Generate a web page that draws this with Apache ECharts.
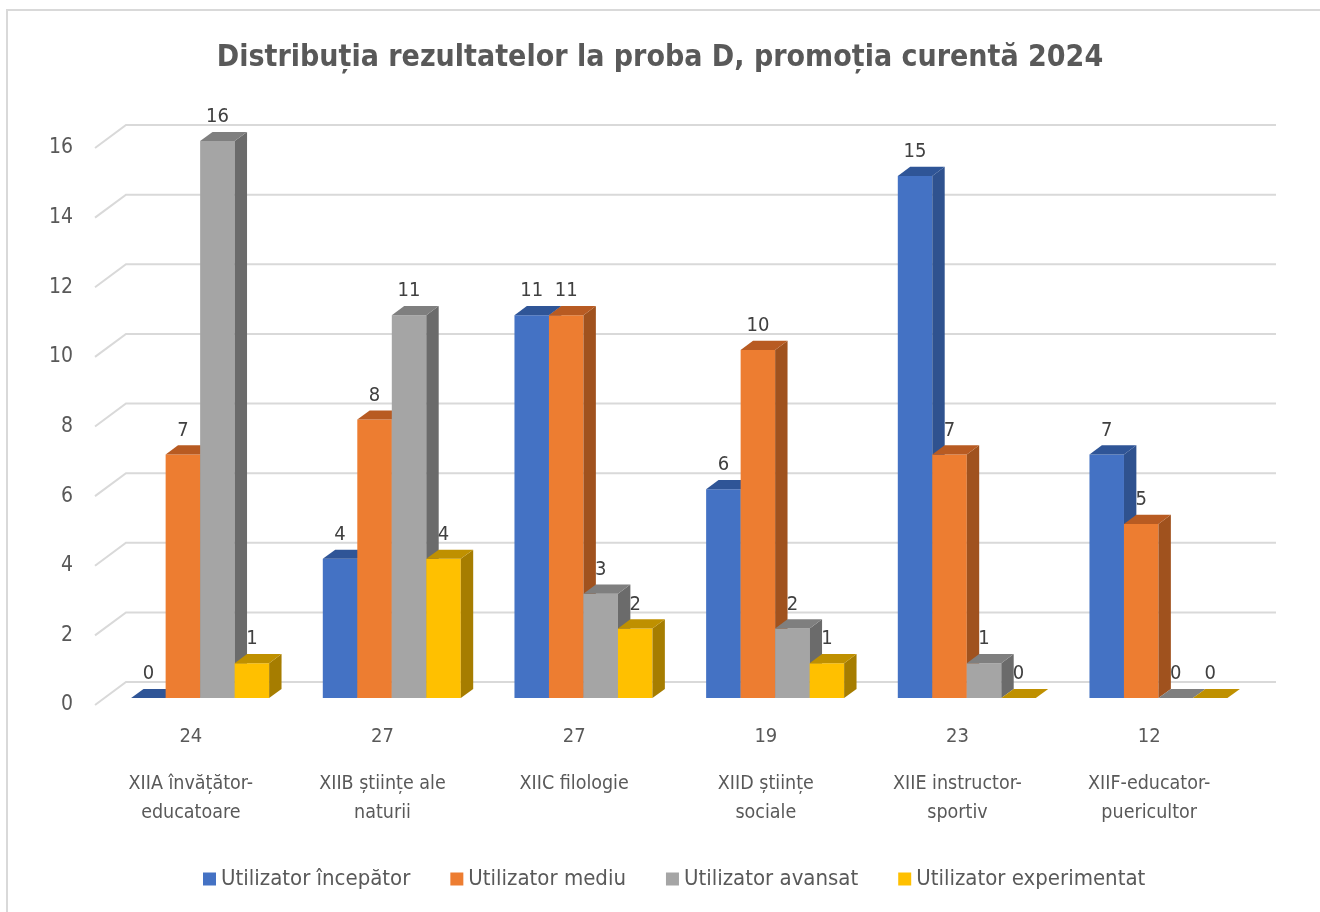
<!DOCTYPE html>
<html>
<head>
<meta charset="utf-8">
<title>Distribuția rezultatelor la proba D</title>
<script src="https://cdn.jsdelivr.net/npm/echarts@6/dist/echarts.min.js"></script>
<style>
html, body { margin: 0; padding: 0; background: #fff; }
#chart { width: 1320px; height: 912px; }
</style>
</head>
<body>
<div id="chart"></div>
<script>
// clase si numar de elevi
var classes = ['XIIA învățător-\neducatoare', 'XIIB științe ale\nnaturii', 'XIIC filologie',
	'XIID științe\nsociale', 'XIIE instructor-\nsportiv', 'XIIF-educator-\npuericultor'];
var totals = ['24', '27', '27', '19', '23', '12'];

var levels = ['Utilizator începător', 'Utilizator mediu', 'Utilizator avansat', 'Utilizator experimentat'];
var incepator = [0, 4, 11, 6, 15, 7];
var mediu = [7, 8, 11, 10, 7, 5];
var avansat = [16, 11, 3, 2, 1, 0];
var experimentat = [1, 4, 2, 1, 0, 0];

var yTicks = [0, 2, 4, 6, 8, 10, 12, 14, 16];

// fata, latura, capac
var colors = [
	['#4472C4', '#2F528F', '#2F5597'],
	['#ED7D31', '#A0521E', '#B85B22'],
	['#A5A5A5', '#6B6B6B', '#7F7F7F'],
	['#FFC000', '#A67D00', '#BF9000']
];

var FONT = '"Liberation Sans Narrow", "DejaVu Sans Condensed", sans-serif';
var DEPTH_X = 31, DEPTH_Y = -23; // adancimea podelei
var BAR_D0 = 0.3, BAR_D1 = 0.7;  // pozitia barelor in adancime

var myChart = echarts.init(document.getElementById('chart'));

function gridRender(params, api) {
	var cs = params.coordSys;
	var y = api.coord([0, api.value(1)])[1];
	return {
		type: 'polyline',
		shape: { points: [[cs.x, y], [cs.x + DEPTH_X, y + DEPTH_Y], [cs.x + cs.width + DEPTH_X, y + DEPTH_Y]] },
		style: { stroke: '#D9D9D9', lineWidth: 2, fill: null }
	};
}

function barRender(idx) {
	return function(params, api) {
		var cat = api.value(0);
		var val = api.value(1);
		var top = api.coord([cat, val]);
		var base = api.coord([cat, 0]);
		var catW = api.size([1, 0])[0];
		var bw = catW * 0.18;
		var ox = DEPTH_X * BAR_D0, oy = DEPTH_Y * BAR_D0;
		var dx = DEPTH_X * (BAR_D1 - BAR_D0), dy = DEPTH_Y * (BAR_D1 - BAR_D0);
		var xl = top[0] - bw * 2 + idx * bw + ox;
		var xr = xl + bw;
		var yt = top[1] + oy;
		var yb = base[1] + oy;
		var c = colors[idx];
		return {
			type: 'group',
			children: [
				{ type: 'rect', shape: { x: xl, y: yt, width: bw, height: yb - yt }, style: { fill: c[0] } },
				{ type: 'polygon', shape: { points: [[xr, yt], [xr, yb], [xr + dx, yb + dy], [xr + dx, yt + dy]] }, style: { fill: c[1] } },
				{ type: 'polygon', shape: { points: [[xl, yt], [xr, yt], [xr + dx, yt + dy], [xl + dx, yt + dy]] }, style: { fill: c[2] } },
				{ type: 'text', style: { text: String(val), x: xl + bw / 2, y: yt - 24, align: 'center', verticalAlign: 'middle',
					fontSize: 20, fontFamily: FONT, fill: '#404040' } }
			]
		};
	};
}

function toPairs(arr) {
	return arr.map(function(v, i) { return [i, v]; });
}

var seriesData = [incepator, mediu, avansat, experimentat];
var series = [{
	type: 'custom',
	name: 'grila',
	renderItem: gridRender,
	data: yTicks.map(function(v) { return [0, v]; }),
	clip: false,
	silent: true,
	z: 1
}];
for (var i = 0; i < seriesData.length; i++) {
	series.push({
		type: 'custom',
		name: levels[i],
		renderItem: barRender(i),
		data: toPairs(seriesData[i]),
		itemStyle: { color: colors[i][0] },
		clip: false,
		z: 2
	});
}

option = {
	backgroundColor: '#fff',
	animation: false,
	title: {
		text: 'Distribuția rezultatelor la proba D, promoția curentă 2024',
		left: 'center',
		top: 38,
		textStyle: { fontFamily: FONT, fontWeight: 'bold', fontSize: 30, color: '#595959' }
	},
	graphic: [{
		type: 'rect',
		shape: { x: 7, y: 10, width: 1400, height: 1000 },
		style: { fill: null, stroke: '#D9D9D9', lineWidth: 2 },
		silent: true
	}],
	legend: {
		data: levels,
		left: 198,
		top: 863,
		icon: 'rect',
		itemWidth: 13,
		itemHeight: 13,
		itemGap: 40,
		textStyle: { fontFamily: FONT, fontSize: 22, color: '#595959' }
	},
	grid: {
		left: 95,
		right: 75,
		top: 148,
		bottom: 207,
		containLabel: false
	},
	xAxis: [{
		type: 'category',
		data: classes,
		axisLine: { show: false },
		axisTick: { show: false },
		axisLabel: {
			margin: 17,
			interval: 0,
			formatter: function(value, index) {
				var lines = value.split('\n').map(function(l) { return '{n|' + l + '}'; });
				return '{t|' + totals[index] + '}\n{g| }\n' + lines.join('\n');
			},
			rich: {
				t: { fontFamily: FONT, fontSize: 20, color: '#595959', lineHeight: 30 },
				g: { fontSize: 4, lineHeight: 17 },
				n: { fontFamily: FONT, fontSize: 19.5, color: '#595959', lineHeight: 29 }
			}
		}
	}],
	yAxis: [{
		type: 'value',
		min: 0,
		max: 16,
		interval: 2,
		axisLine: { show: false },
		axisTick: { show: false },
		splitLine: { show: false },
		axisLabel: { margin: 22, fontFamily: FONT, fontSize: 21, color: '#595959' }
	}],
	series: series
};
myChart.setOption(option, true);
</script>
</body>
</html>
